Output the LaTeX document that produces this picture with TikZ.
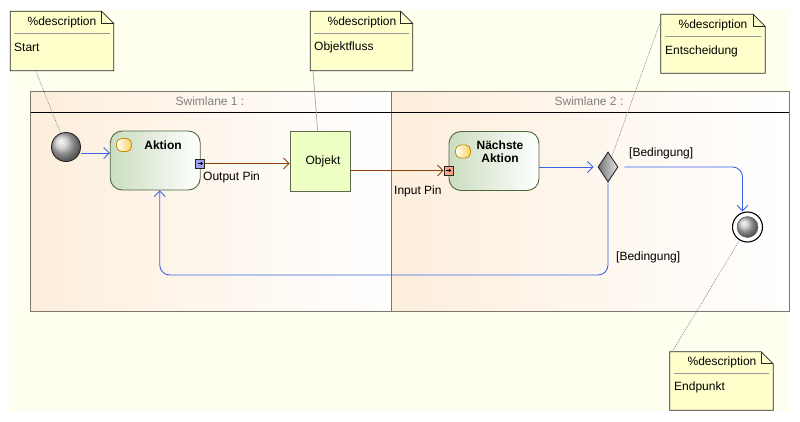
\documentclass[tikz,border=0pt]{standalone}
\usepackage{fontspec}
\setmainfont{Liberation Sans}
\usetikzlibrary{arrows.meta,shapes.geometric,fit}
\definecolor{bgyellow}{RGB}{255,255,240}
\definecolor{laneorange}{RGB}{253,238,220}
\definecolor{lanegray}{RGB}{125,120,110}
\definecolor{lanetext}{RGB}{128,128,128}
\definecolor{actgreen}{RGB}{203,221,192}
\definecolor{actborder}{RGB}{78,104,60}
\definecolor{objfill}{RGB}{238,255,196}
\definecolor{objborder}{RGB}{95,105,75}
\definecolor{notefill}{RGB}{255,255,204}
\definecolor{flowblue}{RGB}{60,100,230}
\definecolor{objbrown}{RGB}{140,65,10}
\definecolor{iconfill}{RGB}{250,210,90}
\definecolor{iconborder}{RGB}{200,140,0}
\definecolor{outpinfill}{RGB}{160,160,240}
\definecolor{inpinfill}{RGB}{245,165,130}
\newcommand\umlnotebox[5]{%
  \coordinate (#1a) at (#2,#3);
  \coordinate (#1b) at (#4,#5);
  \node[fit=(#1a)(#1b), inner sep=0pt] (#1) {};
  \draw[notestyle] (#1.north west) -- ([xshift=-12pt]#1.north east)
     -- ([yshift=-12pt]#1.north east) -- (#1.south east) -- (#1.south west) -- cycle;
  \draw[notefold] ([xshift=-12pt]#1.north east) -- ([xshift=-12pt,yshift=-12pt]#1.north east)
     -- ([yshift=-12pt]#1.north east);
}
\begin{document}
\begin{tikzpicture}[x=1pt,y=-1pt,
  font=\fontsize{12}{13}\selectfont,
  action/.style={draw=actborder, line width=0.9pt, rounded corners=12pt,
    left color=actgreen, right color=white, minimum width=90pt,
    minimum height=59pt, inner sep=0pt},
  stateicon/.style={draw=iconborder, line width=0.8pt, rounded corners=5pt,
    left color=white, right color=iconfill, minimum width=15pt,
    minimum height=13pt, inner sep=0pt},
  pinbox/.style={draw=black!85, line width=0.7pt, minimum size=9pt, inner sep=0pt},
  objbox/.style={draw=objborder, line width=0.9pt, fill=objfill,
    minimum width=60pt, minimum height=60pt, inner sep=0pt},
  notestyle/.style={draw=black!85, line width=0.8pt, fill=notefill},
  notefold/.style={draw=black!85, line width=0.8pt},
  notesep/.style={draw=black!40, line width=0.7pt},
  notelink/.style={draw=black!50, line width=0.6pt, dash pattern=on 1pt off 1pt},
  notelinksolid/.style={draw=black!35, line width=0.7pt},
  flow/.style={draw=flowblue, line width=0.9pt, -{Straight Barb[length=5.5pt,width=11pt]}},
  objflow/.style={draw=objbrown, line width=0.9pt, -{Straight Barb[length=5.5pt,width=11pt]}},
  lbl/.style={inner sep=0pt}
]
\useasboundingbox (0,0) rectangle (800,421);
% background
\fill[bgyellow] (10,10) rectangle (789,411);
% swimlanes
\shade[left color=laneorange, right color=white] (30.5,91) rectangle (391,311);
\shade[left color=laneorange, right color=white] (391,91) rectangle (789,311);
\draw[lanegray, line width=1pt] (30.5,91) rectangle (789,311);
\draw[lanegray, line width=1pt] (391,91) -- (391,311);
\draw[black, line width=0.9pt] (30.5,112) -- (789,112);
\node[lbl, text=lanetext] (lane1) at (210,101) {Swimlane 1 :};
\node[lbl, text=lanetext] (lane2) at (589,101) {Swimlane 2 :};

% notes
\umlnotebox{noteA}{10.5}{11.5}{113.5}{70.5}
\node[lbl] (noteAh) at (62,22) {\%description};
\draw[notesep] (14,33) -- (110,33);
\node[lbl, anchor=west] (noteAt) at (14,47) {Start};

\umlnotebox{noteB}{310.5}{11.5}{412.5}{70.5}
\node[lbl] (noteBh) at (362,22) {\%description};
\draw[notesep] (314,33) -- (409,33);
\node[lbl, anchor=west] (noteBt) at (314,47) {Objektfluss};

\umlnotebox{noteC}{661}{14.5}{765}{73}
\node[lbl] (noteCh) at (713,25) {\%description};
\draw[notesep] (665,36) -- (761,36);
\node[lbl, anchor=west] (noteCt) at (665,51) {Entscheidung};

\umlnotebox{noteD}{670}{352}{773}{410}
\node[lbl] (noteDh) at (722,362) {\%description};
\draw[notesep] (674,373) -- (769,373);
\node[lbl, anchor=west] (noteDt) at (674,387) {Endpunkt};

% nodes
\node[circle, draw=black!85, line width=0.9pt, ball color=black!22,
  minimum size=29pt, inner sep=0pt] (start) at (66,147) {};
\node[action] (aktion) at (155.25,160.5) {};
\node[stateicon] (aktionicon) at (124,145) {};
\node[lbl, font=\fontsize{12}{13}\selectfont\bfseries] (aktiontext) at (163,145) {Aktion};
\node[pinbox, fill=outpinfill] (outpin) at (200.3,163.5) {};
\draw[line width=0.6pt, -{Straight Barb[length=1.5pt,width=3pt]}]
  ([xshift=-2.5pt]outpin.center) -- ([xshift=2.5pt]outpin.center);
\node[lbl, anchor=west] (outpintext) at (203,177) {Output Pin};

\node[objbox] (objekt) at (320,161) {};
\node[lbl] (objekttext) at (323,161) {Objekt};

\node[action] (naechste) at (494,161) {};
\node[stateicon] (naechsteicon) at (463,151.5) {};
\node[lbl, align=center, font=\fontsize{12}{13}\selectfont\bfseries] (naechstetext) at (500,151.5) {Nächste\\Aktion};
\node[pinbox, fill=inpinfill] (inpin) at (448.5,170.5) {};
\draw[line width=0.6pt, -{Straight Barb[length=1.5pt,width=3pt]}]
  ([xshift=-2.5pt]inpin.center) -- ([xshift=2.5pt]inpin.center);
\node[lbl, anchor=west] (inpintext) at (394,191) {Input Pin};

\node[diamond, draw=black!85, line width=0.9pt, left color=black!55, right color=black!10,
  minimum width=20pt, minimum height=30pt, inner sep=0pt, aspect=0.67] (decision) at (608,167) {};

\node[circle, draw=black, line width=1.1pt, fill=white, minimum size=30pt, inner sep=0pt] (endnode) at (747.5,227) {};
\node[circle, draw=black!60, line width=0.5pt, ball color=black!25, minimum size=21pt, inner sep=0pt] (endball) at (747.5,227) {};

% labels
\node[lbl, anchor=west] (cond1) at (629,153) {[Bedingung]};
\node[lbl, anchor=west] (cond2) at (616,257) {[Bedingung]};

% connectors
\coordinate (loopy) at (0,275);
\draw[flow] ([yshift=-6pt]start.east) -- ([yshift=-6pt]start.east -| aktion.west);
\draw[objflow] (outpin.east) -- (outpin.east -| objekt.west);
\draw[objflow] (objekt.east |- inpin.west) -- (inpin.west);
\draw[flow] (naechste.east |- decision) -- ([xshift=-4pt]decision.west);
\draw[flow, rounded corners=10pt] ([xshift=6pt]decision.east) -| ([xshift=-5pt]endnode.north);
\draw[flow, rounded corners=10pt] (decision.south) |- ([xshift=4.5pt]aktion.south |- loopy) -- ([xshift=4.5pt]aktion.south);

% note links
\coordinate (linkA) at (36,71.5);
\coordinate (linkB) at (313,71);
\coordinate (linkC) at (661,20);
\coordinate (linkD) at (672,352);
\draw[notelink] (linkA) -- (start);
\draw[notelinksolid] (linkB) -- (objekt);
\draw[notelink] (linkC) -- (decision);
\draw[notelink] (linkD) -- (endnode);
\end{tikzpicture}
\end{document}
